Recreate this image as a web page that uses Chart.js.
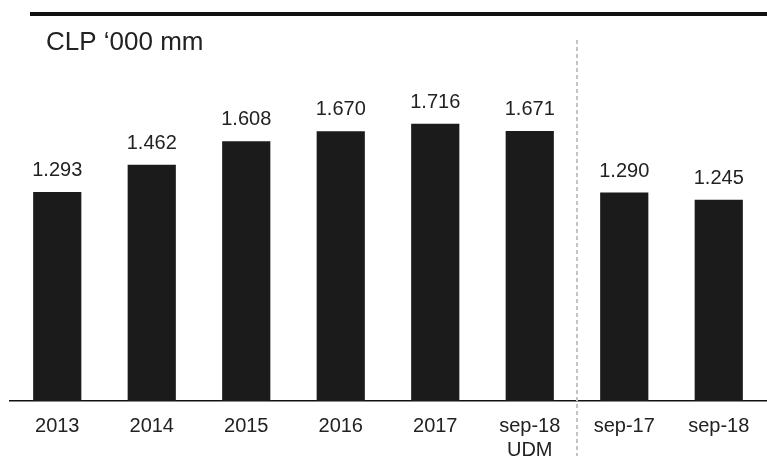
<!DOCTYPE html>
<html>
<head>
<meta charset="utf-8">
<script src="https://cdn.jsdelivr.net/npm/chart.js@4/dist/chart.umd.min.js"></script>
<style>
html,body{margin:0;padding:0;background:#fff;}
#wrap{width:767px;height:458px;position:relative;}
</style>
</head>
<body>
<div id="wrap"><canvas id="c" width="767" height="458"></canvas></div>
<script>
const categories = ['2013', '2014', '2015', '2016', '2017', ['sep-18', 'UDM'], 'sep-17', 'sep-18'];
const values = [1.293, 1.462, 1.608, 1.670, 1.716, 1.671, 1.290, 1.245];
const valueLabels = ['1.293', '1.462', '1.608', '1.670', '1.716', '1.671', '1.290', '1.245'];
const unitTitle = 'CLP \u2018000 mm';
const separatorAfterIndex = 5;

const FONT = '"Liberation Sans", Arial, sans-serif';

const decor = {
  id: 'decor',
  afterDatasetsDraw(chart) {
    const ctx = chart.ctx;
    const meta = chart.getDatasetMeta(0);
    ctx.save();
    // value labels
    ctx.fillStyle = '#222';
    ctx.font = '20px ' + FONT;
    ctx.textAlign = 'center';
    ctx.textBaseline = 'alphabetic';
    meta.data.forEach((bar, i) => {
      ctx.fillText(valueLabels[i], bar.x, bar.y - 16);
    });
    ctx.restore();
  },
  afterDraw(chart) {
    const ctx = chart.ctx;
    const xs = chart.scales.x;
    ctx.save();
    // top rule
    ctx.fillStyle = '#111';
    ctx.fillRect(30, 12, 737, 4);
    // unit title
    ctx.fillStyle = '#222';
    ctx.font = '26px ' + FONT;
    ctx.textAlign = 'left';
    ctx.textBaseline = 'alphabetic';
    ctx.fillText(unitTitle, 46, 50);
    // dashed separator
    const sx = (xs.getPixelForValue(separatorAfterIndex) + xs.getPixelForValue(separatorAfterIndex + 1)) / 2;
    ctx.strokeStyle = '#c4c4c4';
    ctx.lineWidth = 2;
    ctx.setLineDash([4, 3]);
    ctx.beginPath();
    ctx.moveTo(sx, chart.chartArea.top);
    ctx.lineTo(sx, 456);
    ctx.stroke();
    ctx.restore();
  }
};

new Chart(document.getElementById('c'), {
  type: 'bar',
  data: {
    labels: categories,
    datasets: [{
      data: values,
      backgroundColor: '#1b1b1b',
      borderWidth: 0,
      categoryPercentage: 1,
      barPercentage: 0.51
    }]
  },
  options: {
    responsive: false,
    animation: false,
    devicePixelRatio: 1,
    layout: { padding: { top: 40, left: 10, right: 1, bottom: 0 } },
    plugins: { legend: { display: false }, tooltip: { enabled: false }, title: { display: false } },
    scales: {
      x: {
        grid: { display: false, drawTicks: false },
        border: { display: true, color: '#111', width: 1.5 },
        ticks: {
          color: '#222',
          font: { family: FONT, size: 20 },
          padding: 13,
          maxRotation: 0,
          autoSkip: false
        },
        afterFit(scale) { scale.height = 57; }
      },
      y: {
        display: false,
        min: 0,
        max: 2.234
      }
    }
  },
  plugins: [decor]
});
</script>
</body>
</html>
